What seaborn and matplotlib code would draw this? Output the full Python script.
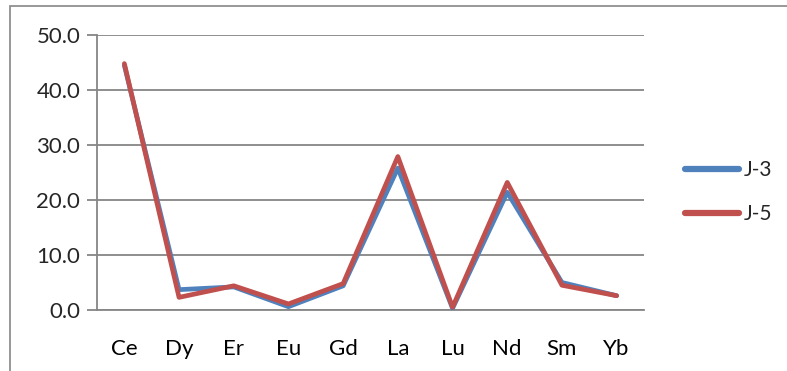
import matplotlib
matplotlib.use("Agg")
import matplotlib.pyplot as plt
from matplotlib.patches import Rectangle
import pandas as pd
import seaborn as sns

# Values
elements = ["Ce", "Dy", "Er", "Eu", "Gd", "La", "Lu", "Nd", "Sm", "Yb"]
j3 = [44.5, 3.7, 4.2, 0.6, 4.4, 25.8, 0.3, 21.4, 5.0, 2.6]
j5 = [44.8, 2.3, 4.4, 1.1, 4.8, 27.9, 0.5, 23.2, 4.5, 2.6]
series_names = ["J-3", "J-5"]
yticks = [0, 10, 20, 30, 40, 50]

df = pd.DataFrame({
    "element": elements * 2,
    "value": j3 + j5,
    "sample": [series_names[0]] * len(elements) + [series_names[1]] * len(elements),
})
df["pos"] = df["element"].map({e: i for i, e in enumerate(elements)})

sns.set_style("white")
plt.rcParams["font.family"] = ["Lato", "DejaVu Sans"]

fig = plt.figure(figsize=(7.87, 3.71), dpi=100)
ax = fig.add_axes([97 / 787, 61 / 371, 547 / 787, 275 / 371])

# outer chart-area frame (runs off right/bottom edge)
fig.patches.append(Rectangle((10 / 787, -0.05), 1.0, (371 - 6) / 371 + 0.05,
                             transform=fig.transFigure, fill=False,
                             edgecolor="#868686", linewidth=1.2, zorder=0))

grey = "#868686"
for y in yticks:
    ax.axhline(y, color=grey, linewidth=1.3, zorder=1)

sns.lineplot(data=df, x="pos", y="value", hue="sample",
             palette=["#4F81BD", "#C0504D"], linewidth=3.4, ax=ax,
             legend=False, zorder=3, sort=False)

ax.set_xlim(-0.5, len(elements) - 0.5)
ax.set_ylim(0, 50)
ax.set_yticks(yticks)
ax.set_yticklabels([f"{v:.1f}" for v in yticks])
ax.set_xticks(range(len(elements)))
ax.set_xticklabels(elements)
ax.set_xticks([i - 0.5 for i in range(len(elements) + 1)], minor=True)
ax.tick_params(axis="x", which="major", length=0, pad=21, labelsize=16, colors="black")
ax.tick_params(axis="x", which="minor", length=7, width=1.3, color=grey, direction="out")
ax.tick_params(axis="y", which="major", length=7, width=1.3, color=grey, direction="out",
               labelsize=16, pad=5, left=True)
ax.set_xlabel("")
ax.set_ylabel("")

for side in ["top", "right"]:
    ax.spines[side].set_visible(False)
for side in ["left", "bottom"]:
    ax.spines[side].set_visible(True)
    ax.spines[side].set_color(grey)
    ax.spines[side].set_linewidth(1.3)

handles = [plt.Line2D([], [], color=c, linewidth=4.5, solid_capstyle="round")
           for c in ["#4F81BD", "#C0504D"]]
fig.legend(handles, series_names, loc="center left", bbox_to_anchor=(666 / 787, 1 - 192 / 371),
           frameon=False, fontsize=15, handlelength=2.6, handletextpad=0.25,
           labelspacing=1.15)

fig.savefig("out.png", dpi=100)
